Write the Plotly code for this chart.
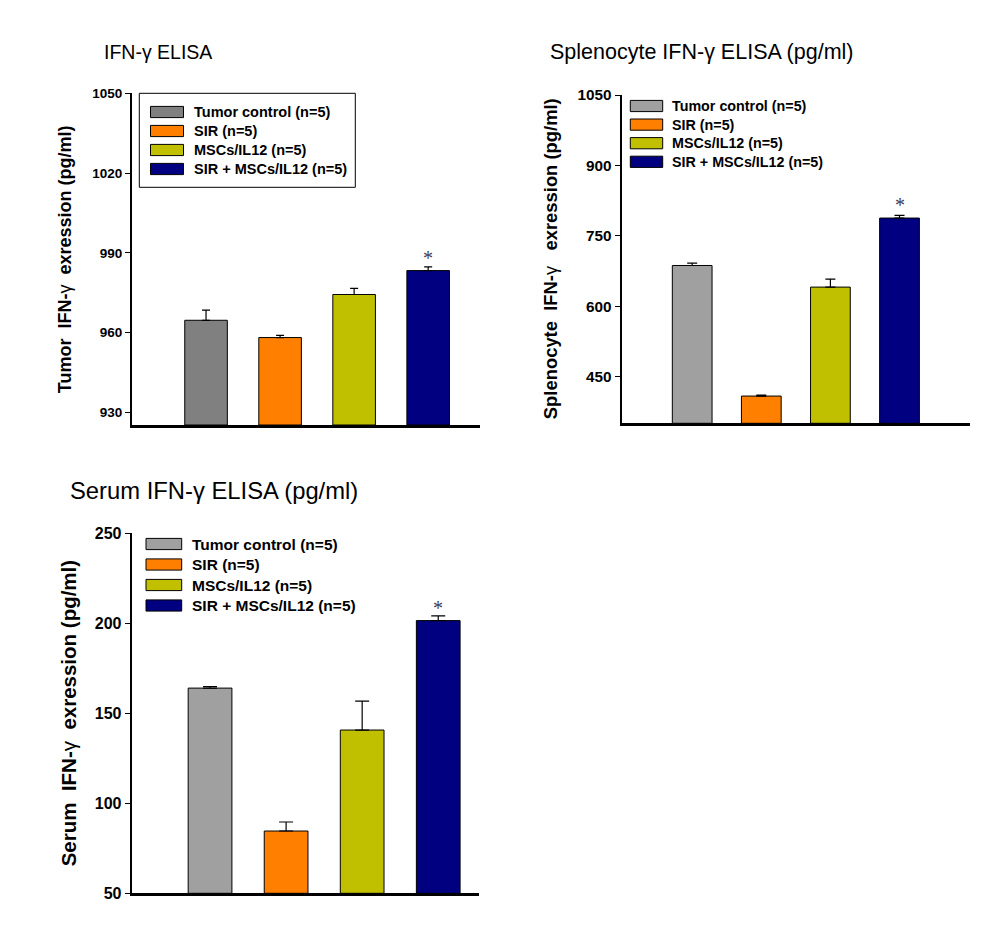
import plotly.graph_objects as go

# page body has an 8px margin; keep the page inside the 1005x931 window
OFF = 8
W, H = 1005 - 2 * OFF, 931 - 2 * OFF - 20

groups = ["Tumor control (n=5)", "SIR (n=5)", "MSCs/IL12 (n=5)", "SIR + MSCs/IL12 (n=5)"]

tumor_mean = [964.6, 958.1, 974.3, 983.3]
tumor_err = [3.8, 0.8, 2.3, 1.4]
tumor_ticks = [930, 960, 990, 1020, 1050]

spleno_mean = [687, 409, 641, 788]
spleno_err = [5, 2, 17, 5.5]
spleno_ticks = [450, 600, 750, 900, 1050]

serum_mean = [164.0, 84.6, 140.7, 201.5]
serum_err = [0.9, 5.0, 16.1, 2.6]
serum_ticks = [50, 100, 150, 200, 250]

colors1 = ["#808080", "#FF8000", "#C0C000", "#000080"]
colors23 = ["#A0A0A0", "#FF8000", "#C0C000", "#000080"]


def px(x):
    return (x - OFF) / W


def py(y):
    return 1 - (y - OFF) / H


panels = [
    dict(mean=tumor_mean, err=tumor_err, ticks=tumor_ticks, colors=colors1,
         xd=(132, 480), yd=(93.3, 425), yr=(925.2, 1050), xr=(-1.0, 3.7),
         title="IFN-γ ELISA", tpos=(102, 52), tsize=19.5,
         ytitle="<b>Tumor\u00a0\u00a0IFN-</b>γ<b>\u00a0\u00a0exression (pg/ml)</b>", ytx=65, ytsize=18,
         tickfs=13.5, capw=4, starshift=4,
         legbox=(139.3, 93.3, 355.3, 187.3), legx=(150.5, 183.5), legy0=112, legdy=19, legtx=191.5, legfs=14.5),
    dict(mean=spleno_mean, err=spleno_err, ticks=spleno_ticks, colors=colors23,
         xd=(621.7, 970), yd=(95, 423.3), yr=(351, 1050), xr=(-1.02, 4.02),
         title="Splenocyte IFN-γ ELISA (pg/ml)", tpos=(548, 52), tsize=21.5,
         ytitle="<b>Splenocyte\u00a0\u00a0IFN-</b>γ<b>\u00a0\u00a0\u00a0exression (pg/ml)</b>", ytx=550, ytsize=18.4,
         tickfs=15.3, capw=5, starshift=5,
         legbox=None, legx=(630.3, 662.7), legy0=106, legdy=18.6, legtx=670, legfs=14.3),
    dict(mean=serum_mean, err=serum_err, ticks=serum_ticks, colors=colors23,
         xd=(131.7, 479.3), yd=(533.3, 893.3), yr=(50, 250), xr=(-1.03, 3.54),
         title="Serum IFN-γ ELISA (pg/ml)", tpos=(68, 490), tsize=23.8,
         ytitle="<b>Serum\u00a0\u00a0IFN-</b>γ<b>\u00a0\u00a0exression (pg/ml)</b>", ytx=68, ytsize=20.5,
         tickfs=16, capw=7, starshift=3,
         legbox=None, legx=(146, 181.7), legy0=544, legdy=20.5, legtx=190, legfs=15.5),
]

fig = go.Figure()
shapes = []
annotations = []

for i, p in enumerate(panels):
    n = "" if i == 0 else str(i + 1)
    xa, ya = "x" + n, "y" + n
    fig.add_trace(go.Bar(
        x=groups, y=[m - p["yr"][0] for m in p["mean"]], xaxis=xa, yaxis=ya,
        base=p["yr"][0], showlegend=False,
        marker=dict(color=p["colors"], line=dict(color="black", width=1)),
        width=0.575,
        error_y=dict(type="data", array=p["err"], arrayminus=[0] * 4, symmetric=False,
                     color="black", thickness=1.2, width=p["capw"]),
    ))
    fig.update_layout(**{
        ("xaxis" + n): dict(domain=[px(p["xd"][0]), px(p["xd"][1])], anchor=ya, range=list(p["xr"]),
                            showticklabels=False, ticks="", showline=True, linecolor="black", linewidth=3,
                            showgrid=False, zeroline=False, fixedrange=True, automargin=False),
        ("yaxis" + n): dict(domain=[py(p["yd"][1]), py(p["yd"][0])], anchor=xa, range=list(p["yr"]),
                            tickvals=p["ticks"], ticks="outside", ticklen=5, tickwidth=1, tickcolor="black",
                            showline=True, linecolor="black", linewidth=2, showgrid=False, zeroline=False,
                            automargin=False,
                            tickfont=dict(family="Arial", size=p["tickfs"], color="black", weight="bold")),
    })
    # star above last bar
    annotations.append(dict(x=groups[3], y=p["mean"][3] + p["err"][3], xref=xa, yref=ya,
                            text="*", showarrow=False, yanchor="bottom", yshift=p["starshift"] - 8,
                            font=dict(family="Liberation Serif", size=20, color="#3a3a5a")))
    # panel title
    annotations.append(dict(x=px(p["tpos"][0]), y=py(p["tpos"][1]), xref="paper", yref="paper",
                            text=p["title"], showarrow=False, xanchor="left", yanchor="middle",
                            font=dict(family="Arial", size=p["tsize"], color="black")))
    # y title
    annotations.append(dict(x=px(p["ytx"]), y=(py(p["yd"][0]) + py(p["yd"][1])) / 2, xref="paper", yref="paper",
                            text=p["ytitle"], showarrow=False, textangle=-90, xanchor="center", yanchor="middle",
                            font=dict(family="Arial", size=p["ytsize"], color="black")))
    # legend
    if p["legbox"]:
        x0, y0, x1, y1 = p["legbox"]
        shapes.append(dict(type="rect", xref="paper", yref="paper", x0=px(x0), x1=px(x1), y0=py(y1), y1=py(y0),
                           line=dict(color="black", width=1), fillcolor="rgba(0,0,0,0)"))
    for k, g in enumerate(groups):
        yc = p["legy0"] + k * p["legdy"]
        shapes.append(dict(type="rect", xref="paper", yref="paper", x0=px(p["legx"][0]), x1=px(p["legx"][1]),
                           y0=py(yc + 5.6), y1=py(yc - 5.6), line=dict(color="black", width=1),
                           fillcolor=p["colors"][k]))
        annotations.append(dict(x=px(p["legtx"]), y=py(yc), xref="paper", yref="paper", text="<b>" + g + "</b>",
                                showarrow=False, xanchor="left", yanchor="middle",
                                font=dict(family="Arial", size=p["legfs"], color="black")))

fig.update_layout(width=W, height=H, margin=dict(l=0, r=0, t=0, b=0),
                  paper_bgcolor="white", plot_bgcolor="white",
                  shapes=shapes, annotations=annotations)

fig.write_html("out.html")
